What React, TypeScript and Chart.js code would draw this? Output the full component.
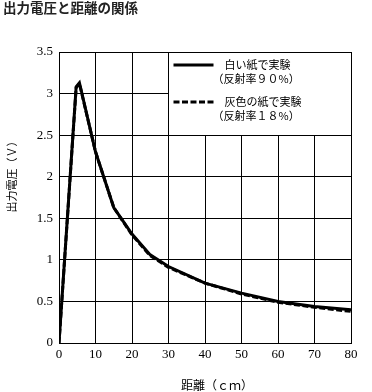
import React, { useEffect, useRef } from "react";
import { Chart, registerables } from "chart.js";

Chart.register(...registerables);

// ---- data ----
const DISTANCE_WHITE = [0, 4.7, 5.6, 10, 15, 20, 25, 30, 40, 50, 60, 70, 80];
const VOLT_WHITE = [0, 3.08, 3.13, 2.3, 1.63, 1.31, 1.06, 0.92, 0.72, 0.6, 0.5, 0.44, 0.4];
const DISTANCE_GRAY = [0, 4.7, 5.6, 10, 15, 20, 25, 30, 40, 50, 60, 70, 80];
const VOLT_GRAY = [0, 3.07, 3.12, 2.3, 1.63, 1.3, 1.05, 0.91, 0.72, 0.59, 0.49, 0.43, 0.38];

const X_TICKS = [0, 10, 20, 30, 40, 50, 60, 70, 80];
const Y_TICK_LABELS = ["0", "0.5", "1", "1.5", "2", "2.5", "3", "3.5"];

const TITLE = "出力電圧と距離の関係";
const X_TITLE = "距離（ｃｍ）";
const Y_TITLE = "出力電圧（Ｖ）";
const LEGEND_ROWS = [
  { label: "白い紙で実験", sub: "（反射率９０%）", dash: [] as number[] },
  { label: "灰色の紙で実験", sub: "（反射率１８%）", dash: [6, 2.5] },
];

const CJK = '"Noto Sans CJK JP", "Noto Sans", sans-serif';
const SERIF = '"Liberation Serif", "DejaVu Serif", serif';

const align = (p: number) => Math.round(p - 0.5) + 0.5;

const overlay = {
  id: "overlay",
  beforeDatasetsDraw(chart: any) {
    const { ctx, scales } = chart;
    const x = scales.x;
    const y = scales.y;
    const l = align(x.getPixelForValue(30));
    const r = align(x.getPixelForValue(80));
    const t = align(y.getPixelForValue(3.5));
    const b = align(y.getPixelForValue(2.5));
    ctx.save();
    ctx.fillStyle = "#fff";
    ctx.fillRect(l + 0.5, t + 0.5, r - l - 1, b - t - 1);
    ctx.restore();
  },
  afterDraw(chart: any) {
    const { ctx, scales } = chart;
    const x = scales.x;
    const y = scales.y;
    const boxL = x.getPixelForValue(30);
    const boxT = y.getPixelForValue(3.5);
    ctx.save();
    // legend
    LEGEND_ROWS.forEach((row, i) => {
      const cy = boxT + 13 + i * 37;
      ctx.strokeStyle = "#000";
      ctx.lineWidth = 3;
      ctx.setLineDash(row.dash);
      ctx.beginPath();
      ctx.moveTo(boxL + 5, cy);
      ctx.lineTo(boxL + 45, cy);
      ctx.stroke();
      ctx.setLineDash([]);
      ctx.fillStyle = "#000";
      ctx.font = `11px ${CJK}`;
      ctx.textBaseline = "middle";
      ctx.textAlign = "left";
      ctx.fillText(row.label, boxL + 56, cy);
      ctx.fillText(row.sub, boxL + 44, cy + 14);
    });
    // main title
    ctx.font = `bold 13.5px ${CJK}`;
    ctx.fillStyle = "#222";
    ctx.textAlign = "left";
    ctx.textBaseline = "middle";
    ctx.fillText(TITLE, 3, 8);
    // x title
    ctx.font = `12px ${CJK}`;
    ctx.fillStyle = "#000";
    ctx.textAlign = "center";
    ctx.fillText(X_TITLE, 217, 385);
    // y title
    ctx.translate(12, 174);
    ctx.rotate(-Math.PI / 2);
    ctx.font = `11px ${CJK}`;
    ctx.textAlign = "center";
    ctx.fillText(Y_TITLE, 0, 0);
    ctx.restore();
  },
};

export default function App() {
  const ref = useRef<HTMLCanvasElement | null>(null);
  useEffect(() => {
    if (!ref.current) return;
    const chart = new Chart(ref.current, {
      type: "line",
      data: {
        datasets: [
          {
            label: "白い紙で実験",
            data: DISTANCE_WHITE.map((d, i) => ({ x: d, y: VOLT_WHITE[i] })),
            borderColor: "#000",
            borderWidth: 3,
            pointRadius: 0,
            tension: 0,
            fill: false,
          },
          {
            label: "灰色の紙で実験",
            data: DISTANCE_GRAY.map((d, i) => ({ x: d, y: VOLT_GRAY[i] })),
            borderColor: "#000",
            borderWidth: 3,
            borderDash: [6, 2.5],
            pointRadius: 0,
            tension: 0,
            fill: false,
          },
        ],
      },
      options: {
        responsive: false,
        animation: false,
        devicePixelRatio: 1,
        layout: { padding: { top: 52, right: 21, left: 0, bottom: 0 } },
        plugins: { legend: { display: false }, tooltip: { enabled: false }, title: { display: false } },
        scales: {
          x: {
            type: "linear",
            min: 0,
            max: 80,
            afterBuildTicks: (s: any) => {
              s.ticks = X_TICKS.map((v) => ({ value: v }));
            },
            afterFit: (s: any) => {
              s.height = 49;
            },
            grid: { color: "#000", lineWidth: 1, drawTicks: false },
            border: { color: "#000", width: 1 },
            ticks: {
              color: "#000",
              padding: 4,
              maxRotation: 0,
              font: { family: SERIF, size: 13 },
              callback: (v: any) => String(v),
            },
          },
          y: {
            type: "linear",
            min: 0,
            max: 3.5,
            afterBuildTicks: (s: any) => {
              s.ticks = Y_TICK_LABELS.map((t) => ({ value: parseFloat(t) }));
            },
            afterFit: (s: any) => {
              s.width = 59;
            },
            grid: { color: "#000", lineWidth: 1, drawTicks: false },
            border: { color: "#000", width: 1 },
            ticks: {
              color: "#000",
              padding: 6,
              font: { family: SERIF, size: 13 },
              callback: (v: any) => Y_TICK_LABELS[Math.round(v * 2)] ?? String(v),
            },
          },
        },
      },
      plugins: [overlay],
    });
    return () => chart.destroy();
  }, []);
  return (
    <div style={{ position: "absolute", left: 0, top: 0, width: 372, height: 392, background: "#fff" }}>
      <canvas ref={ref} width={372} height={392} />
    </div>
  );
}
